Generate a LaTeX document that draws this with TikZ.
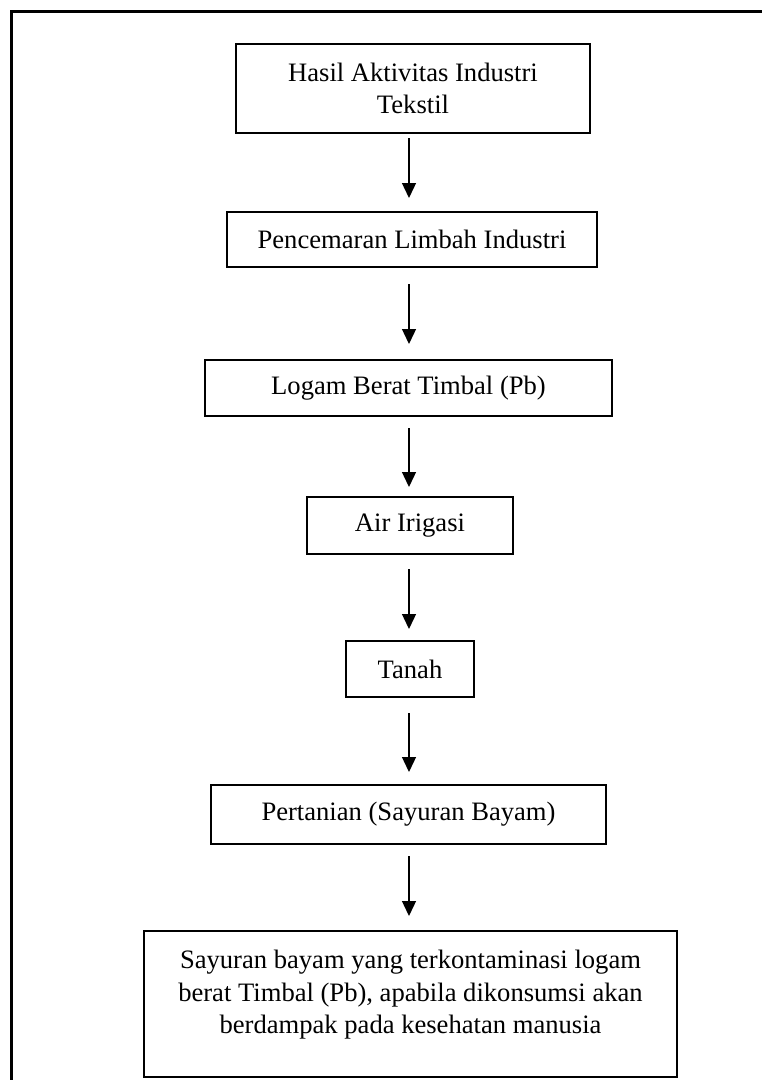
\documentclass[tikz,border=0pt]{standalone}
\usepackage{fontspec}
\setmainfont{Liberation Serif}
\usetikzlibrary{arrows.meta}
\begin{document}
\begin{tikzpicture}[x=1pt,y=-1pt,
  every node/.style={font=\fontsize{26.6}{31.5}\selectfont},
  flowbox/.style={draw, line width=2pt, inner sep=0pt, align=center},
  arr/.style={line width=1.3pt, -{Triangle[width=14pt,length=15pt]}},
  frameline/.style={line width=3pt}]
\useasboundingbox (0,0) rectangle (762,1080);
% outer frame (only left and top edges visible)
\coordinate (fbl) at (11,1082);
\coordinate (ftl) at (11,11);
\coordinate (ftr) at (764,11);
\draw[frameline] (fbl) -- (ftl) -- (ftr);
\coordinate (ax) at (409,0);
\node[flowbox, minimum width=354pt, minimum height=89pt] (b1) at (413,88.5) {Hasil Aktivitas Industri\\Tekstil};
\node[flowbox, minimum width=370pt, minimum height=55pt] (b2) at (412,239.5) {Pencemaran Limbah Industri};
\node[flowbox, minimum width=407pt, minimum height=56pt] (b3) at (408.5,388) {Logam Berat Timbal (Pb)};
\node[flowbox, minimum width=206pt, minimum height=57pt] (b4) at (410,525.5) {Air Irigasi};
\node[flowbox, minimum width=128pt, minimum height=56pt] (b5) at (410,669) {Tanah};
\node[flowbox, minimum width=395pt, minimum height=59pt] (b6) at (408.5,814.5) {Pertanian (Sayuran Bayam)};
\node[flowbox, minimum width=533pt, minimum height=146pt] (b7) at (410.5,1004) {};
\node[align=center, inner sep=0pt, font=\fontsize{26.6}{32.5}\selectfont] (t7) at (410.5,995) {Sayuran bayam yang terkontaminasi logam\\berat Timbal (Pb), apabila dikonsumsi akan\\berdampak pada kesehatan manusia};
\draw[arr] ([yshift=-4pt]b1.south -| ax) -- ([yshift=13pt]b2.north -| ax);
\draw[arr] ([yshift=-16pt]b2.south -| ax) -- ([yshift=15pt]b3.north -| ax);
\draw[arr] ([yshift=-11pt]b3.south -| ax) -- ([yshift=9pt]b4.north -| ax);
\draw[arr] ([yshift=-14pt]b4.south -| ax) -- ([yshift=11pt]b5.north -| ax);
\draw[arr] ([yshift=-15pt]b5.south -| ax) -- ([yshift=12pt]b6.north -| ax);
\draw[arr] ([yshift=-11pt]b6.south -| ax) -- ([yshift=14pt]b7.north -| ax);
\end{tikzpicture}
\end{document}
